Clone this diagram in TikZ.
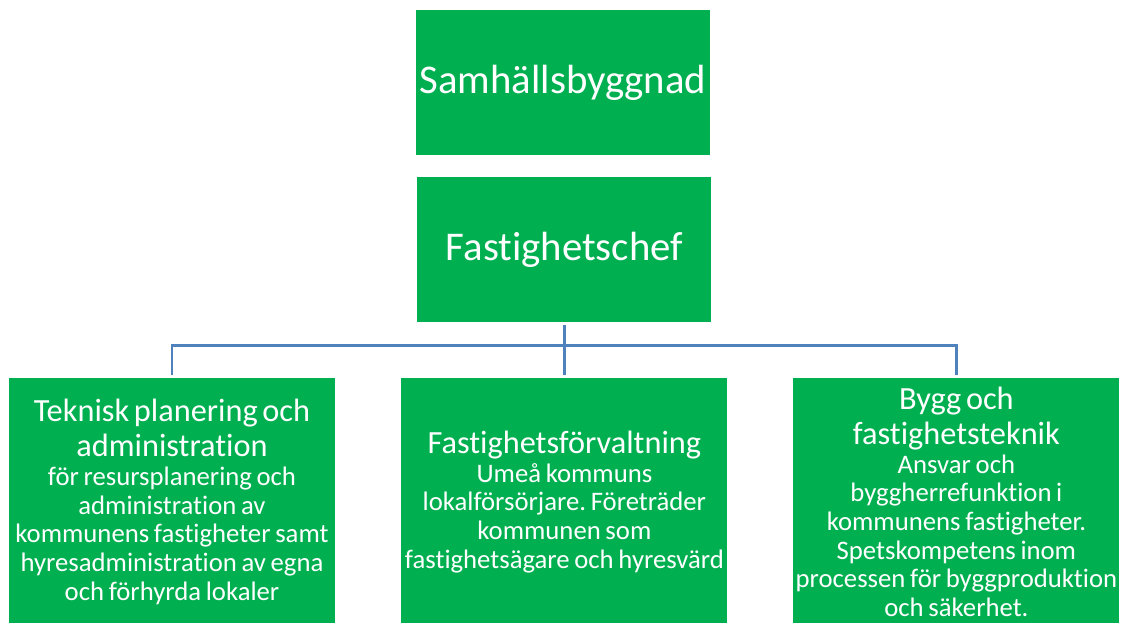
\documentclass[tikz,border=0pt]{standalone}
\usepackage{fontspec}
\setmainfont{Carlito}[Ligatures={NoCommon,NoContextual}]
\usepackage{tikz}
\usetikzlibrary{calc}
\definecolor{boxgreen}{HTML}{00B050}
\definecolor{linkblue}{HTML}{4F81BD}
\tikzset{
	headbox/.style={fill=boxgreen, text=white, inner sep=0pt, minimum width=7.35cm, minimum height=3.625cm, font=\fontsize{29}{31}\selectfont},
	unitbox/.style={fill=boxgreen, text=white, inner sep=0pt, minimum width=8.15cm, text width=8.15cm, minimum height=6.2cm, align=center},
	link/.style={draw=linkblue, line width=1.8pt}
}
\newcommand{\unittitle}[1]{{\fontsize{23}{24.9}\selectfont #1\par}}
\newcommand{\unittext}[1]{{\fontsize{19}{20.4}\selectfont #1\par}}
\frenchspacing

\begin{document}
\begin{tikzpicture}
			%%%%% START %%%%%
			
			\useasboundingbox (0, 0) rectangle (28.05, -15.55);
			
			\node[headbox] (samhall) at (14.075, -2.0625) {Samhällsbyggnad};
			\node[headbox] (chef) at (14.11, -6.24) {Fastighetschef};
			
			\node[unitbox] (teknisk) at (4.3, -12.55) {\unittitle{Teknisk planering och\\administration}\unittext{för resursplanering och\\administration av\\kommunens fastigheter samt\\hyresadministration av egna\\och förhyrda lokaler}};
			\node[unitbox] (forvaltning) at (14.11, -12.55) {\unittitle{Fastighetsförvaltning}\unittext{Umeå kommuns\\lokalförsörjare. Företräder\\kommunen som\\fastighetsägare och hyresvärd}};
			\node[unitbox] (bygg) at (23.91, -12.55) {\unittitle{Bygg och\\fastighetsteknik}\unittext{Ansvar och\\byggherrefunktion i\\kommunens fastigheter.\\Spetskompetens inom\\processen för byggproduktion\\och säkerhet.}};
			
			\coordinate (bus) at ($(chef.south) + (0, -0.575)$);
			\draw[link] ([yshift=-0.075cm]chef.south) -- ([yshift=0.075cm]forvaltning.north);
			\draw[link] ([yshift=0.075cm]teknisk.north) |- (bus) -| ([yshift=0.075cm]bygg.north);
			
			%%%%% END %%%%%
\end{tikzpicture}
\end{document}
